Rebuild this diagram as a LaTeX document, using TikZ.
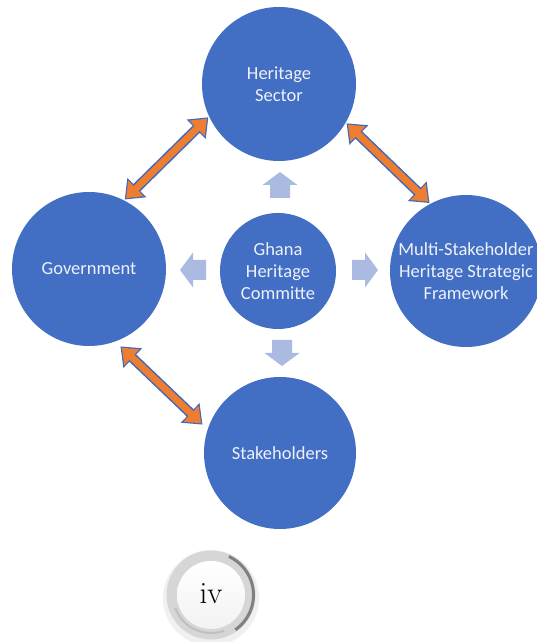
\documentclass[tikz,border=0pt]{standalone}
\usepackage{fontspec}
\newfontfamily\calib{Carlito}
\usetikzlibrary{arrows.meta}
\definecolor{circblue}{RGB}{66,110,196}
\definecolor{linkorange}{RGB}{237,125,49}
\definecolor{linkedge}{RGB}{62,104,190}
\definecolor{paleblue}{RGB}{170,186,224}
\definecolor{txtwhite}{RGB}{238,241,248}
\tikzset{
	hub/.style={circle, fill=circblue, inner sep=0pt, text=txtwhite, align=center,
		font=\calib\fontsize{18.5}{22}\selectfont},
	link/.style={line width=10pt, draw=linkedge, shorten <=#1, shorten >=#1,
		{Triangle[length=17pt,width=26pt]}-{Triangle[length=17pt,width=26pt]},
		postaction={draw=linkorange, line width=7pt, shorten <=#1+1.8pt, shorten >=#1+1.8pt,
			{Triangle[length=14pt,width=21pt]}-{Triangle[length=14pt,width=21pt]}}},
	link/.default=1pt,
	pics/blockarrow/.style={code={
		\fill[paleblue] (0,-10)--(13,-10)--(13,-17.5)--(26,0)--(13,17.5)--(13,10)--(0,10)--cycle;}}
}
\begin{document}
\begin{tikzpicture}[x=1pt, y=1pt, line join=round]
	\def\rbig{154} \def\rsmall{116} % diameters
	\useasboundingbox (0,0) rectangle (536,642);
	\fill[white] (0,0) rectangle (536,642);
	% the five circles
	\node[hub, minimum size=\rbig] (her) at (279,558) {Heritage\\Sector};
	\node[hub, minimum size=\rbig] (gov) at (89,373) {Government};
	\node[hub, minimum size=152] (multi) at (466,371) {Multi-Stakeholder\\Heritage Strategic\\Framework};
	\node[hub, minimum size=152] (stake) at (280,189) {Stakeholders};
	\node[hub, minimum size=\rsmall] (ghana) at (278,371) {Ghana\\Heritage\\Committe};
	% pale arrows out of the committee
	\pic[rotate=90] at (280,444) {blockarrow};
	\pic[rotate=-90] at (282,302) {blockarrow};
	\pic[rotate=180] at (206,372) {blockarrow};
	\pic at (352,372) {blockarrow};
	% orange links
	\draw[link] (gov.63) -- (her.205);
	\draw[link] (her.330) -- (multi.118);
	\draw[link=7pt] (gov.290) -- (stake.162);
	% page number
	\fill[black!6] (211,44) circle (48);
	\fill[black!16] (211,47) circle (44.5);
	\draw[black!50, line width=3pt] (211,47) ++(65:42.5) arc (65:-55:42.5);
	\draw[black!25, line width=2pt] (211,47) ++(200:38) arc (200:290:38);
	\shade[top color=white, bottom color=black!5] (211,47) circle (34);
	\node (page) at (211,48) {\fontsize{31}{34}\selectfont iv};
\end{tikzpicture}
\end{document}
